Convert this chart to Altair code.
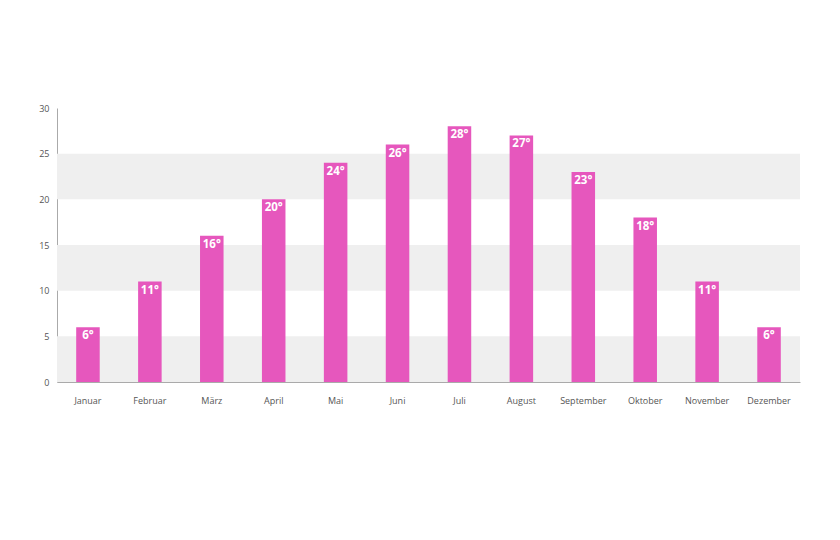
import altair as alt
import pandas as pd

months = ["Januar", "Februar", "März", "April", "Mai", "Juni", "Juli",
          "August", "September", "Oktober", "November", "Dezember"]
temps = [6, 11, 16, 20, 24, 26, 28, 27, 23, 18, 11, 6]
band_start = [0, 10, 20]
band_end = [5, 15, 25]

W, H = 743, 274
FONT = "Open Sans"

df = pd.DataFrame({"month": months, "temp": temps,
                   "label": [f"{t}°" for t in temps]})
bands = pd.DataFrame({"y": band_start, "y2": band_end})

yscale = alt.Scale(domain=[0, 30], nice=False)
xscale = alt.Scale(paddingInner=0.62, paddingOuter=0.31)

yaxis = alt.Axis(title=None, values=[0, 5, 10, 15, 20, 25, 30],
                 ticks=False, grid=False, labelPadding=8,
                 labelFontSize=9, labelColor="#555555",
                 labelFont=FONT, domainColor="#aaaaaa")

band_layer = alt.Chart(bands).mark_rect(color="#efefef").encode(
    x=alt.value(0), x2=alt.value(W),
    y=alt.Y("y:Q", scale=yscale, axis=yaxis),
    y2="y2:Q",
)

bars = alt.Chart(df).mark_bar(color="#e657bd").encode(
    x=alt.X("month:N", sort=months, scale=xscale,
            axis=alt.Axis(title=None, labelAngle=0, ticks=False,
                          labelPadding=14, labelFontSize=9,
                          labelColor="#555555", labelFont=FONT,
                          domainColor="#aaaaaa", grid=False)),
    y=alt.Y("temp:Q", scale=yscale, axis=yaxis),
)

labels = alt.Chart(df).mark_text(color="white", fontWeight="bold",
                                 fontSize=11.5, font=FONT, baseline="top",
                                 dy=3).encode(
    x=alt.X("month:N", sort=months, scale=xscale),
    y=alt.Y("temp:Q", scale=yscale),
    text="label:N",
)

chart = alt.layer(band_layer, bars, labels).properties(
    width=W, height=H,
    background="white",
    autosize=alt.AutoSizeParams(type="none"),
    padding={"left": 49, "top": 100, "right": 32, "bottom": 150},
).configure_view(stroke=None, strokeWidth=0).configure_axis(grid=False)

chart.save("out.html", embed_options={"renderer": "svg", "actions": False})
